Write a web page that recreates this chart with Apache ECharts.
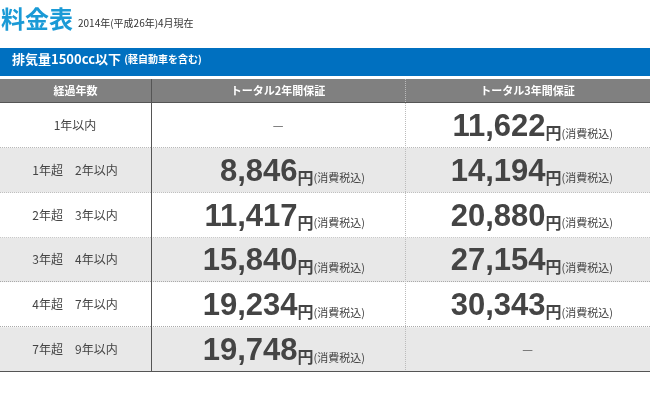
<!DOCTYPE html>
<html><head><meta charset="utf-8">
<script src="https://cdn.jsdelivr.net/npm/echarts@6/dist/echarts.min.js"></script>
<style>html,body{margin:0;padding:0;background:#fff}#c{width:650px;height:410px}</style>
</head><body><div id="c"></div>
<script>
const rows = ['1年以内', '1年超　2年以内', '2年超　3年以内', '3年超　4年以内', '4年超　7年以内', '7年超　9年以内'];
const price2 = [null, 8846, 11417, 15840, 19234, 19748];
const price3 = [11622, 14194, 20880, 27154, 30343, null];
const headers = ['経過年数', 'トータル2年間保証', 'トータル3年間保証'];

const colEdges = [0, 151, 405, 650];
const colTextRight = [0, 365, 613];
const F = '"Noto Sans CJK JP", "Liberation Sans", sans-serif';
const data = [];
rows.forEach((r, i) => {
  data.push([0, i, r]);
  data.push([1, i, price2[i]]);
  data.push([2, i, price3[i]]);
});
const chart = echarts.init(document.getElementById('c'));
chart.setOption({
  animation: false,
  grid: { left: 0, right: 0, top: 103, bottom: 38 },
  xAxis: { type: 'value', min: 0, max: 650, show: false },
  yAxis: { type: 'category', data: rows, inverse: true, show: false },
  graphic: [
    { type: 'text', left: 1, top: 7, style: { text: '料金表', fill: '#1a9ad6', font: 'bold 24px ' + F } },
    { type: 'text', left: 78, top: 18, style: { text: '2014年(平成26年)4月現在', fill: '#333', font: '10px ' + F } },
    { type: 'rect', shape: { x: 0, y: 48, width: 650, height: 28 }, style: { fill: '#0070c0' } },
    { type: 'text', left: 12, top: 53, style: { rich: { a: { fill: '#fff', font: 'bold 13px ' + F }, b: { fill: '#fff', font: 'bold 10px ' + F } }, text: '{a|排気量1500cc以下} {b|(軽自動車を含む)}' } },
    { type: 'rect', shape: { x: 0, y: 79, width: 650, height: 24 }, style: { fill: '#808080' } },
    { type: 'line', shape: { x1: 0, y1: 102.5, x2: 650, y2: 102.5 }, style: { stroke: '#555', lineWidth: 1 } },
    ...headers.map((h, i) => ({ type: 'text', x: (colEdges[i] + colEdges[i + 1]) / 2, y: 91, style: { text: h, fill: '#fff', font: 'bold 11px ' + F, align: 'center', verticalAlign: 'middle' } })),
    { type: 'line', shape: { x1: 151.5, y1: 79, x2: 151.5, y2: 372 }, style: { stroke: '#555', lineWidth: 1 }, z: 100 },
    { type: 'line', shape: { x1: 405.5, y1: 79, x2: 405.5, y2: 372 }, style: { stroke: '#bbb', lineWidth: 1, lineDash: [1, 1] }, z: 100 },
    { type: 'line', shape: { x1: 0, y1: 371.5, x2: 650, y2: 371.5 }, style: { stroke: '#555', lineWidth: 1 }, z: 100 }
  ],
  series: [{
    type: 'custom', data: data,
    renderItem: (params, api) => {
      const c = api.value(0), r = api.value(1);
      const v = data[params.dataIndex][2];
      const p = api.coord([colEdges[c], r]);
      const hgt = api.size([0, 1])[1];
      const top = p[1] - hgt / 2;
      const x0 = colEdges[c], x1 = colEdges[c + 1];
      const children = [
        { type: 'rect', shape: { x: x0, y: top, width: x1 - x0, height: hgt }, style: { fill: r % 2 ? '#e8e8e8' : '#fff' } },
        { type: 'line', shape: { x1: x0, y1: Math.round(top + hgt) - 0.5, x2: x1, y2: Math.round(top + hgt) - 0.5 }, style: { stroke: '#aaa', lineWidth: 1, lineDash: [1, 1] } }
      ];
      if (c === 0) {
        children.push({ type: 'text', x: 75, y: p[1], style: { text: v, fill: '#444', font: '12px ' + F, align: 'center', verticalAlign: 'middle' } });
      } else if (v == null) {
        children.push({ type: 'text', x: (x0 + x1) / 2, y: p[1], style: { text: '—', fill: '#555', font: '12px ' + F, align: 'center', verticalAlign: 'middle' } });
      } else {
        children.push({ type: 'text', x: colTextRight[c], y: p[1] + 2, style: {
          text: '{n|' + v.toLocaleString('en-US') + '}{y|円}{t|(消費税込)}', align: 'right', verticalAlign: 'middle',
          rich: {
            n: { fill: '#444', font: 'bold 31px "Liberation Sans", Arial, sans-serif', verticalAlign: 'bottom' },
            y: { fill: '#444', font: 'bold 16px ' + F, verticalAlign: 'bottom', padding: [0, 0, 2, 0] },
            t: { fill: '#444', font: '11px ' + F, verticalAlign: 'bottom', padding: [0, 0, 4, 0] }
          } } });
      }
      return { type: 'group', children };
    }
  }]
});
</script></body></html>
